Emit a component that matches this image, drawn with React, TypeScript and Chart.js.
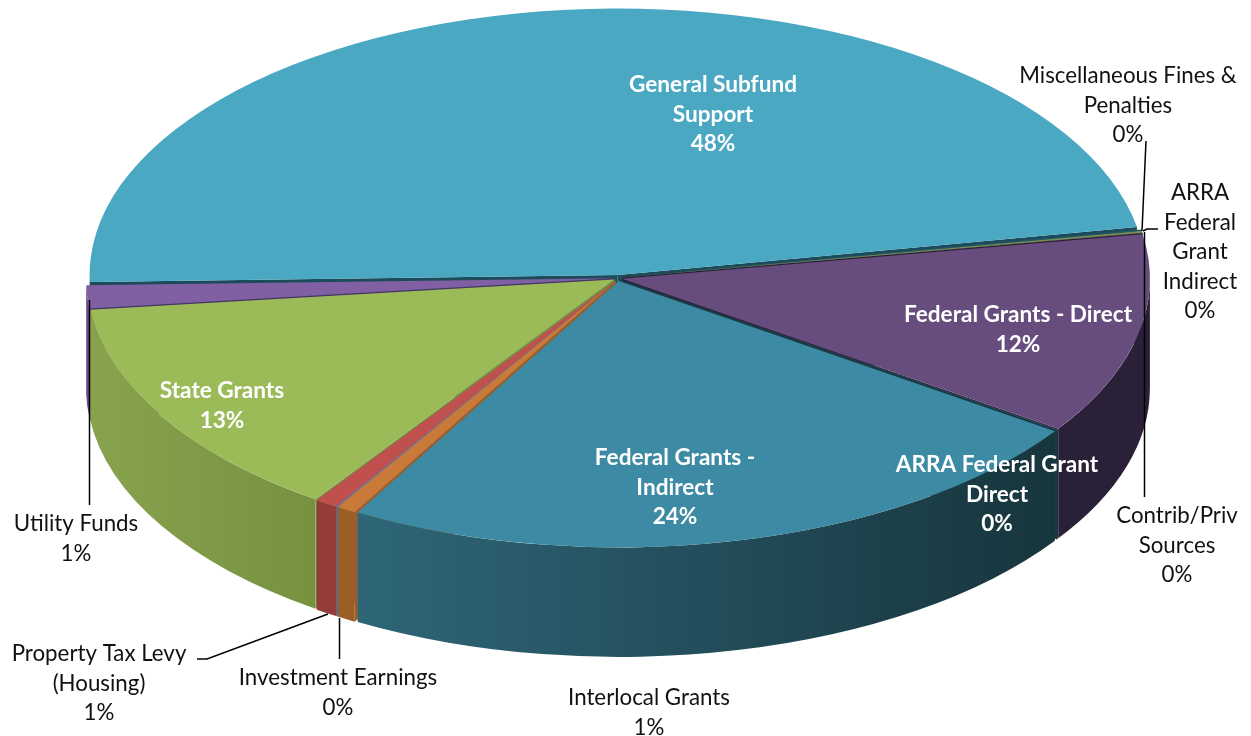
import React, { useEffect, useRef } from "react";
import { Chart, registerables } from "chart.js";

Chart.register(...registerables);

const categories = [
  "General Subfund Support",
  "Miscellaneous Fines & Penalties",
  "ARRA Federal Grant Indirect",
  "Contrib/Priv Sources",
  "Federal Grants - Direct",
  "ARRA Federal Grant Direct",
  "Federal Grants - Indirect",
  "Interlocal Grants",
  "Investment Earnings",
  "Property Tax Levy (Housing)",
  "State Grants",
  "Utility Funds",
];
const shares = [47.6, 0.1, 0.1, 0.02, 12.2, 0.02, 23.73, 0.6, 0.05, 0.7, 13.62, 1.4];
const percentLabels = ["48%", "0%", "0%", "0%", "12%", "0%", "24%", "1%", "0%", "1%", "13%", "1%"];
const labelLines = [
  ["General Subfund", "Support"],
  ["Miscellaneous Fines &", "Penalties"],
  ["ARRA", "Federal", "Grant", "Indirect"],
  ["Contrib/Priv", "Sources"],
  ["Federal Grants - Direct"],
  ["ARRA Federal Grant", "Direct"],
  ["Federal Grants -", "Indirect"],
  ["Interlocal Grants"],
  ["Investment Earnings"],
  ["Property Tax Levy", "(Housing)"],
  ["State Grants"],
  ["Utility Funds"],
];
const topColors = ["#4aa8c3", "#1f5a6c", "#7f8f50", "#664d7e", "#664d7e", "#3c8aa3", "#3c8aa3", "#c97a38", "#5f7fb5", "#c0504d", "#9bbb59", "#8060a2"];
const wallLeft = ["#2e6a7c", "#1f4f5f", "#66733f", "#2a2038", "#2a2038", "#183a44", "#2e6678", "#9c5e29", "#4f6fa5", "#943c3a", "#88a34e", "#6b4a90"];
const wallRight = ["#2e6a7c", "#1f4f5f", "#66733f", "#2a2038", "#2a2038", "#183a44", "#17353d", "#9c5e29", "#4f6fa5", "#943c3a", "#76923f", "#6b4a90"];
const faceColors = ["#1c4c5c", "#1c4c5c", "#55603a", "#2a2038", "#2a2038", "#183a44", "#183a44", "#9c5e29", "#4f6fa5", "#943c3a", "#74903f", "#4a3366"];

// Layout of the drawing (not data).
const START_ROTATION = 268.5;
const CX = 618, CY = 278, RX = 528, RY = 266.5, DEPTH = 109.5;
const EXPLODE_X = 4, EXPLODE_Y = 3;
const labelPos: [number, number][] = [
  [713, 85], [1128, 76], [1200, 193], [1177, 516], [1018, 315], [997, 465],
  [675, 458], [649, 698], [338, 678], [99, 654], [222, 391], [76, 524],
];
const whiteLabels = [0, 4, 5, 6, 10];
const leaders: [number, number][][] = [
  [[1146, 141], [1142, 231]],
  [[1143, 231], [1147, 229], [1158, 229]],
  [[1144.5, 232], [1144.5, 497]],
  [[89.5, 300], [89.5, 505]],
  [[328, 614], [207, 659], [197, 659]],
  [[339.5, 618], [339.5, 659]],
];
const FONT = "Lato";
const LINE = 29.5;

function centerOf(a: any) {
  const mid = (a.startAngle + a.endAngle) / 2;
  return { x: CX + Math.cos(mid) * EXPLODE_X, y: CY + Math.sin(mid) * EXPLODE_Y };
}

const pie3d = {
  id: "pie3d",
  beforeDatasetDraw(chart: any) {
    const ctx = chart.ctx;
    const arcs = chart.getDatasetMeta(0).data;
    const order = arcs.map((_: any, i: number) => i).sort((p: number, q: number) => {
      const s = (a: any) => Math.sin((a.startAngle + a.endAngle) / 2);
      return s(arcs[p]) - s(arcs[q]);
    });
    // radial cut faces: only those turned towards the viewer
    order.forEach((i: number) => {
      const a = arcs[i];
      const c = centerOf(a);
      ctx.fillStyle = faceColors[i];
      [
        { ang: a.startAngle, show: Math.cos(a.startAngle) < 0 },
        { ang: a.endAngle, show: Math.cos(a.endAngle) > 0 },
      ].forEach(({ ang, show }) => {
        if (!show) return;
        const ex = c.x + Math.cos(ang) * RX, ey = c.y + Math.sin(ang) * RY;
        ctx.beginPath();
        ctx.moveTo(c.x, c.y);
        ctx.lineTo(ex, ey);
        ctx.lineTo(ex, ey + DEPTH);
        ctx.lineTo(c.x, c.y + DEPTH);
        ctx.closePath();
        ctx.fill();
      });
    });
    // outer walls
    order.forEach((i: number) => {
      const a = arcs[i];
      const c = centerOf(a);
      let s = a.startAngle, e = a.endAngle;
      const TAU = Math.PI * 2;
      while (s >= TAU) { s -= TAU; e -= TAU; }
      while (s < -Math.PI) { s += TAU; e += TAU; }
      const ranges: [number, number][] = [];
      [[0, Math.PI], [TAU, TAU + Math.PI]].forEach(([lo, hi]) => {
        const f = Math.max(s, lo), t = Math.min(e, hi);
        if (t > f) ranges.push([f, t]);
      });
      ranges.forEach(([f, t]) => {
        const xR = c.x + Math.cos(f) * RX, xL = c.x + Math.cos(t) * RX;
        const g = ctx.createLinearGradient(xL, 0, Math.max(xR, xL + 1), 0);
        g.addColorStop(0, wallLeft[i]);
        g.addColorStop(1, wallRight[i]);
        ctx.fillStyle = g;
        ctx.beginPath();
        ctx.ellipse(c.x, c.y, RX, RY, 0, f, t);
        ctx.ellipse(c.x, c.y + DEPTH, RX, RY, 0, t, f, true);
        ctx.closePath();
        ctx.fill();
      });
    });
    // top faces, drawn by the library's own arc elements in an elliptical space
    arcs.forEach((a: any) => {
      const c = centerOf(a);
      ctx.save();
      ctx.translate(c.x, c.y);
      ctx.scale(RX / a.outerRadius, RY / a.outerRadius);
      ctx.translate(-a.x, -a.y);
      a.draw(ctx);
      ctx.restore();
    });
    return false;
  },
  afterDatasetsDraw(chart: any) {
    const ctx = chart.ctx;
    ctx.save();
    ctx.strokeStyle = "#000000";
    ctx.lineWidth = 1.5;
    leaders.forEach((pts) => {
      ctx.beginPath();
      pts.forEach(([x, y], k) => (k ? ctx.lineTo(x, y) : ctx.moveTo(x, y)));
      ctx.stroke();
    });
    ctx.textAlign = "center";
    ctx.textBaseline = "middle";
    categories.forEach((_, i) => {
      const white = whiteLabels.includes(i);
      ctx.fillStyle = white ? "#ffffff" : "#111111";
      ctx.font = `${white ? "bold 22.6px" : "22.3px"} ${FONT}`;
      const [x, y] = labelPos[i];
      [...labelLines[i], percentLabels[i]].forEach((t, k) => ctx.fillText(t, x, y + k * LINE));
    });
    ctx.restore();
  },
};

export default function App() {
  const ref = useRef<HTMLCanvasElement>(null);
  useEffect(() => {
    const chart = new Chart(ref.current as HTMLCanvasElement, {
      type: "pie",
      data: {
        labels: categories,
        datasets: [{ data: shares, backgroundColor: topColors, borderWidth: 0 }],
      },
      options: {
        animation: false,
        responsive: false,
        rotation: START_ROTATION,
        plugins: { legend: { display: false }, tooltip: { enabled: false } },
      },
      plugins: [pie3d],
    } as any);
    return () => chart.destroy();
  }, []);
  return (
    <div style={{ position: "fixed", left: 0, top: 0, width: 1251, height: 736, background: "#fff" }}>
      <canvas ref={ref} width={1251} height={736} style={{ display: "block" }} />
    </div>
  );
}
